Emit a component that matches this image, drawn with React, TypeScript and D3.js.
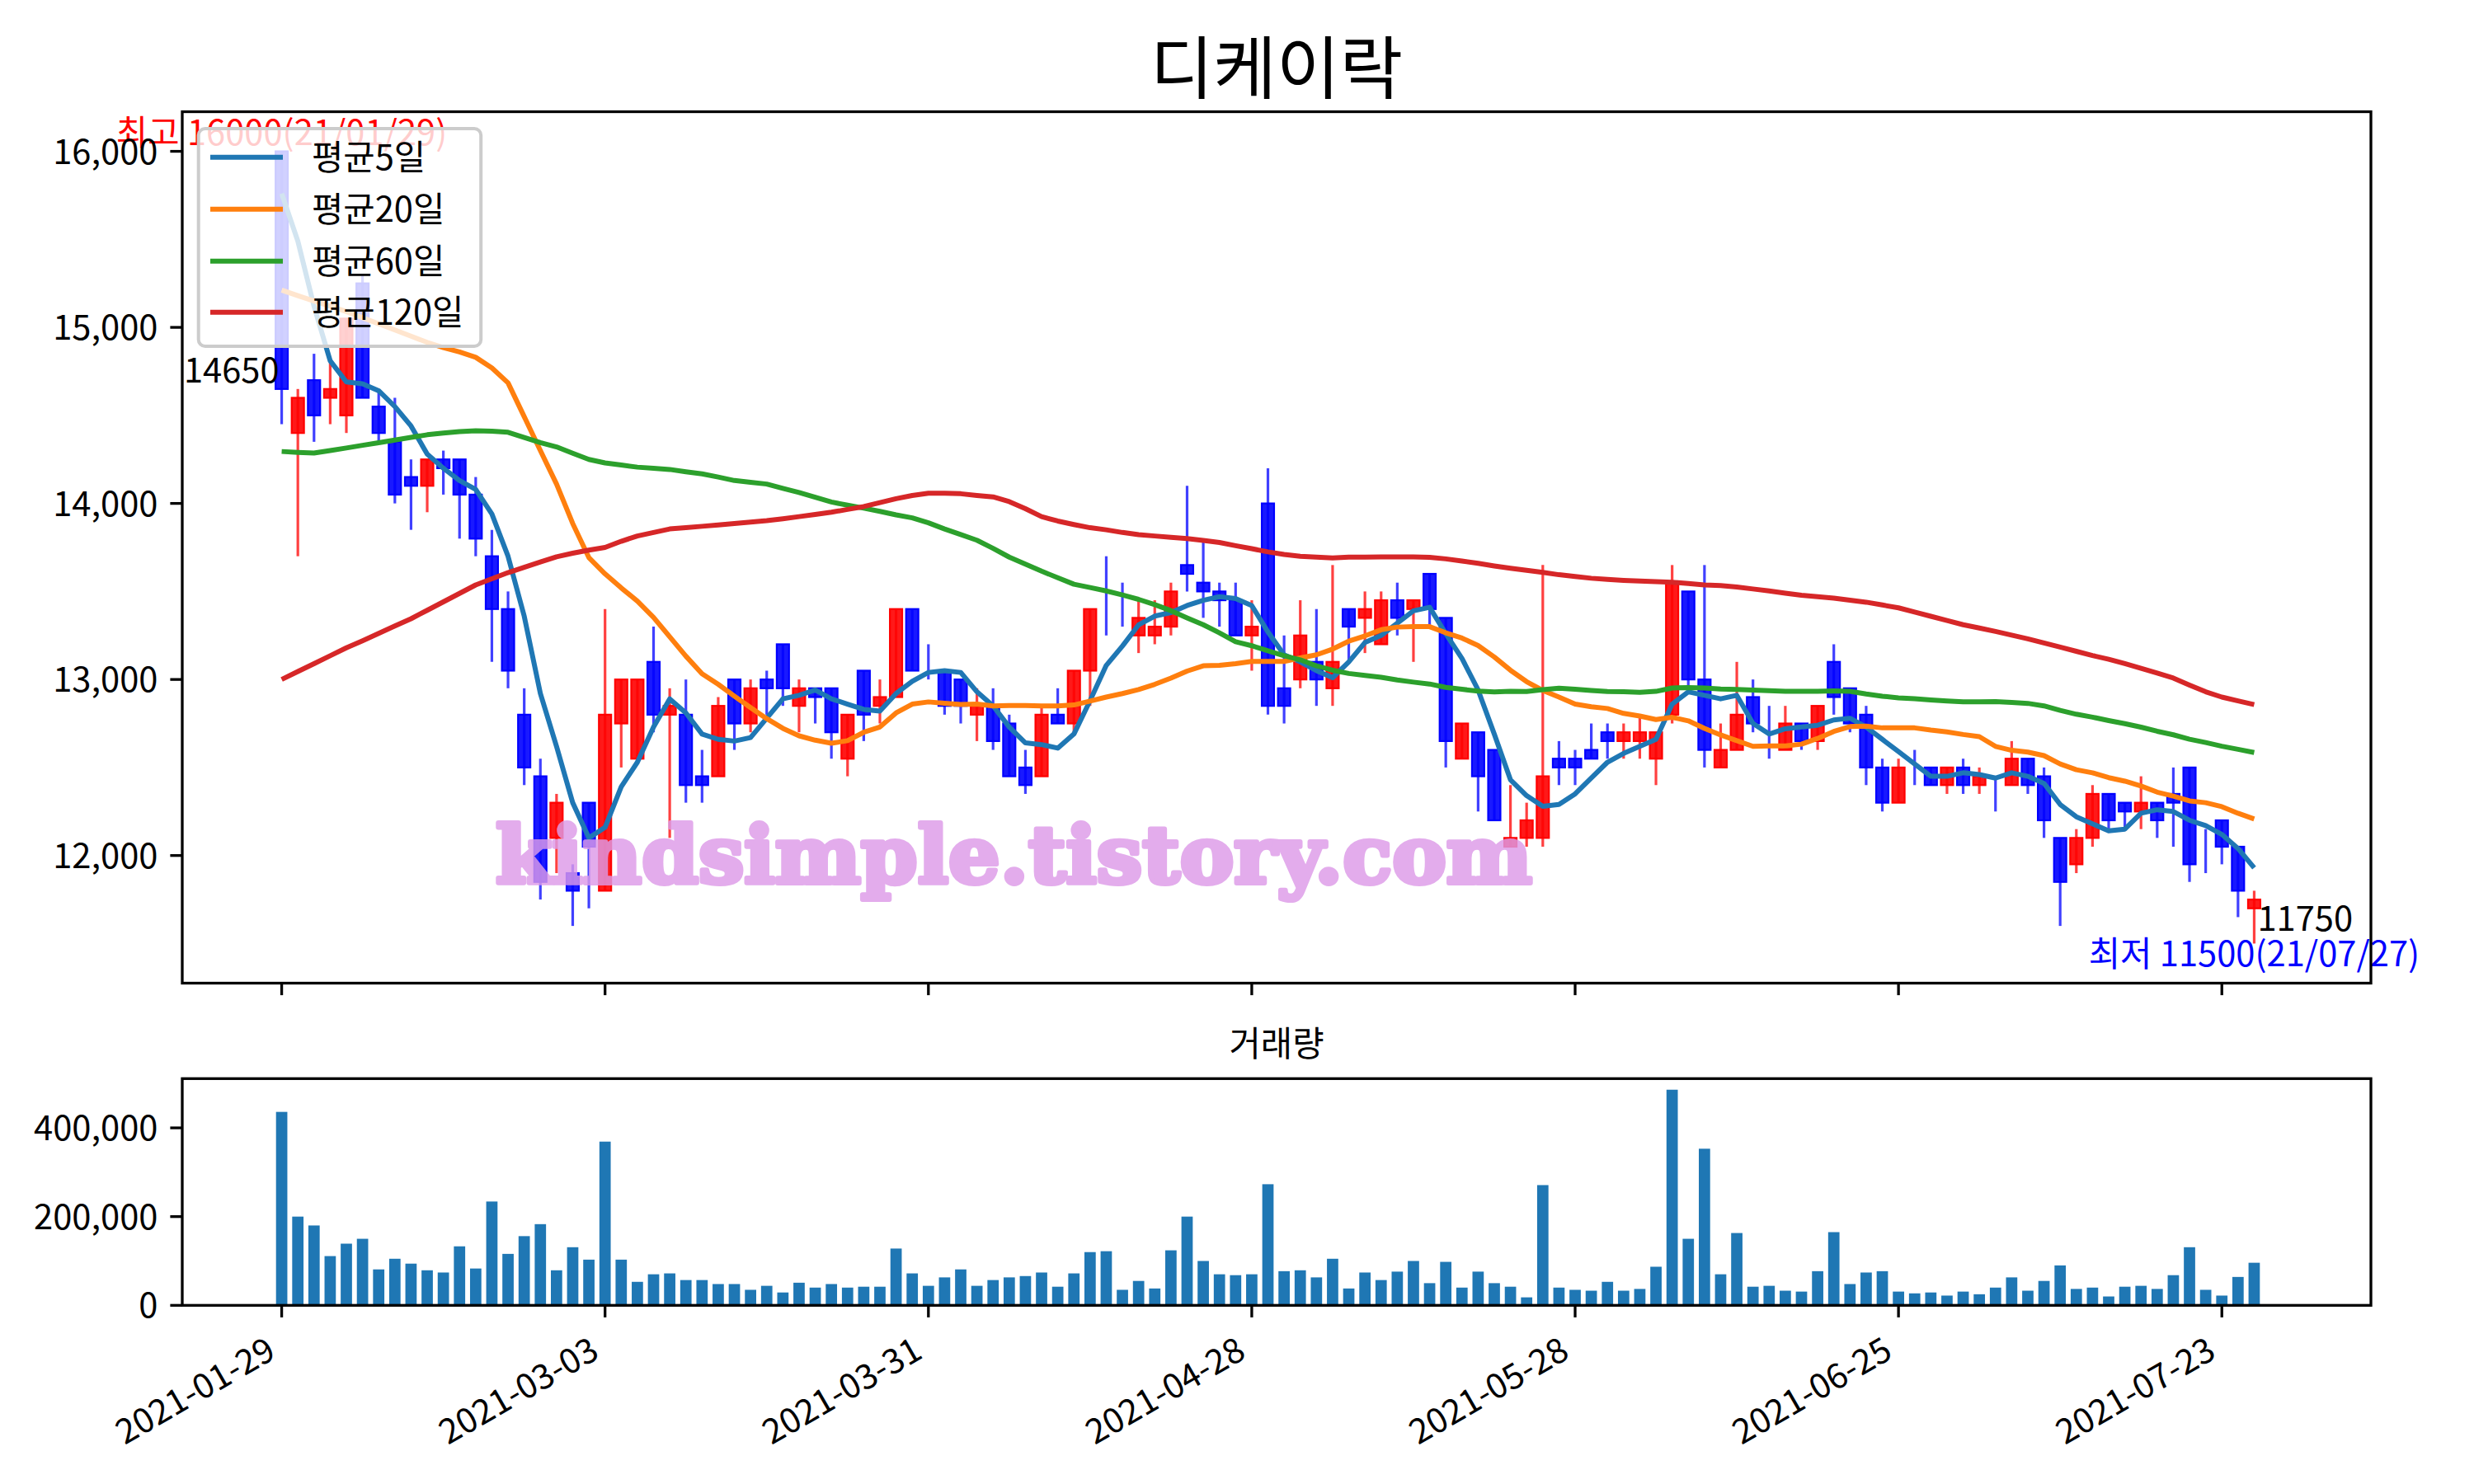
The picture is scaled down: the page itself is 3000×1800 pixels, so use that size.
import React from 'react';
import * as d3 from 'd3';

const W = 3000;
const H = 1800;

// ---------- data ----------
const opens = [
  16000, 14400, 14700, 14600, 14500, 15250, 14550, 14350, 14150, 14100,
  14250, 14250, 14050, 13700, 13400, 12800, 12450, 12100, 11900, 12300,
  11800, 12750, 12550, 13100, 12800, 12800, 12450, 12450, 13000, 12750,
  13000, 13200, 12850, 12950, 12950, 12550, 13050, 12850, 12900, 13400,
  13050, 13050, 13000, 12800, 12850, 12750, 12500, 12450, 12800, 12750,
  13050, 13400, 13350, 13250, 13250, 13300, 13650, 13550, 13500, 13450,
  13250, 14000, 12950, 13000, 13100, 12950, 13400, 13350, 13200, 13450,
  13400, 13600, 13350, 12550, 12700, 12600, 12050, 12100, 12100, 12550,
  12550, 12600, 12700, 12650, 12650, 12550, 12800, 13500, 13000, 12500,
  12600, 12900, 12700, 12600, 12750, 12650, 13100, 12950, 12800, 12500,
  12300, 12550, 12500, 12400, 12500, 12400, 12450, 12400, 12550, 12450,
  12100, 11950, 12100, 12350, 12300, 12250, 12300, 12350, 12500, 12100,
  12200, 12050, 11700,
];
const highs = [
  16000, 14650, 14850, 14800, 15050, 15300, 14650, 14600, 14250, 14250,
  14300, 14250, 14150, 13850, 13500, 12950, 12550, 12350, 11950, 12300,
  13400, 13000, 13000, 13300, 12950, 13000, 12600, 12900, 13000, 13000,
  13050, 13200, 13000, 12950, 12950, 12800, 13050, 13000, 13400, 13400,
  13200, 13050, 13000, 12950, 12950, 12800, 12600, 12850, 12950, 13050,
  13400, 13700, 13550, 13450, 13450, 13550, 14100, 13800, 13550, 13550,
  13450, 14200, 13250, 13450, 13400, 13650, 13400, 13500, 13500, 13550,
  13450, 13600, 13350, 12750, 12700, 12600, 12400, 12300, 13650, 12650,
  12600, 12750, 12750, 12750, 12800, 12700, 13650, 13500, 13650, 12750,
  13100, 13000, 12850, 12850, 12750, 12850, 13200, 12950, 12850, 12550,
  12550, 12600, 12500, 12500, 12550, 12500, 12450, 12650, 12550, 12500,
  12100, 12150, 12400, 12350, 12300, 12450, 12300, 12500, 12500, 12150,
  12200, 12050, 11800,
];
const lows = [
  14450, 13700, 14350, 14450, 14400, 14600, 14350, 14000, 13850, 13950,
  14050, 13800, 13700, 13100, 12950, 12400, 11750, 11900, 11600, 11700,
  11800, 12500, 12550, 12700, 12100, 12300, 12300, 12450, 12600, 12700,
  12800, 12850, 12700, 12750, 12550, 12450, 12650, 12750, 12900, 13050,
  13000, 12800, 12750, 12650, 12600, 12450, 12350, 12450, 12750, 12700,
  12850, 13250, 13300, 13150, 13200, 13250, 13500, 13350, 13300, 13250,
  13050, 12800, 12750, 12950, 12850, 12850, 13100, 13150, 13200, 13250,
  13100, 13300, 12500, 12550, 12250, 12200, 12050, 12050, 12050, 12400,
  12400, 12550, 12550, 12550, 12550, 12400, 12750, 12950, 12500, 12500,
  12600, 12700, 12550, 12600, 12600, 12600, 12800, 12700, 12400, 12250,
  12300, 12400, 12400, 12350, 12350, 12350, 12250, 12400, 12350, 12100,
  11600, 11900, 12050, 12150, 12150, 12150, 12100, 12050, 11850, 11900,
  11950, 11650, 11500,
];
const closes = [
  14650, 14600, 14500, 14650, 15050, 14600, 14400, 14050, 14100, 14250,
  14200, 14050, 13800, 13400, 13050, 12500, 11850, 12300, 11800, 12050,
  12800, 13000, 13000, 12800, 12850, 12400, 12400, 12850, 12750, 12950,
  12950, 12950, 12950, 12900, 12700, 12800, 12800, 12900, 13400, 13050,
  13050, 12850, 12850, 12850, 12650, 12450, 12400, 12800, 12750, 13050,
  13400, 13400, 13350, 13350, 13300, 13500, 13600, 13500, 13450, 13250,
  13300, 12850, 12850, 13250, 13000, 13100, 13300, 13400, 13450, 13350,
  13450, 13400, 12650, 12750, 12450, 12200, 12100, 12200, 12450, 12500,
  12500, 12550, 12650, 12700, 12700, 12700, 13550, 13000, 12600, 12600,
  12800, 12750, 12700, 12750, 12650, 12850, 12900, 12750, 12500, 12300,
  12500, 12550, 12400, 12500, 12400, 12450, 12450, 12550, 12400, 12200,
  11850, 12100, 12350, 12200, 12250, 12300, 12200, 12300, 11950, 12100,
  12050, 11800, 11750,
];
const volumes = [
  436000, 200000, 180000, 111000, 139000, 150000, 81000, 105000, 94000, 79000,
  74000, 133000, 83000, 234000, 116000, 156000, 183000, 79000, 131000, 103000,
  369000, 103000, 53000, 70000, 72000, 57000, 57000, 48000, 48000, 35000,
  44000, 29000, 51000, 40000, 48000, 40000, 42000, 42000, 128000, 72000,
  44000, 63000, 81000, 44000, 57000, 63000, 66000, 74000, 42000, 72000,
  120000, 122000, 35000, 55000, 38000, 124000, 200000, 100000, 70000, 68000,
  70000, 273000, 77000, 79000, 63000, 105000, 38000, 74000, 57000, 76000,
  100000, 50000, 98000, 40000, 76000, 50000, 42000, 18000, 271000, 40000,
  35000, 33000, 53000, 33000, 37000, 87000, 486000, 150000, 353000, 70000,
  163000, 42000, 44000, 33000, 31000, 77000, 165000, 48000, 74000, 77000,
  31000, 27000, 29000, 22000, 31000, 25000, 40000, 63000, 33000, 55000,
  90000, 37000, 40000, 20000, 42000, 44000, 37000, 68000, 131000, 35000,
  22000, 64000, 96000,
];

// moving-average values before the window is filled by the visible closes
const ma5Head = [15760, 15490, 15120, 14810];
const ma20Head = [
  15212, 15180, 15150, 15120, 15090, 15055, 15020, 14985, 14950, 14915,
  14885, 14860, 14830, 14770, 14685, 14493, 14300, 14110, 13886,
];
const ma60Head = [
  14295, 14290, 14286, 14300, 14315, 14330, 14345, 14360, 14375, 14390,
  14400, 14408, 14413, 14410, 14404, 14375, 14345, 14321, 14285, 14250,
  14230, 14218, 14206, 14200, 14193, 14180, 14168, 14150, 14130, 14120,
  14110, 14085, 14062, 14035, 14008, 13990, 13973, 13955, 13935, 13918,
  13890, 13855, 13823, 13791, 13745, 13695, 13655, 13615, 13578, 13541,
  13522, 13503, 13480, 13455, 13425, 13391, 13350, 13311, 13265,
];
const ma120 = [
  13000, 13045, 13090, 13135, 13180, 13220, 13262, 13304, 13345, 13393,
  13441, 13489, 13537, 13572, 13607, 13637, 13667, 13697, 13717, 13735,
  13750, 13785, 13815, 13835, 13855, 13862, 13870, 13878, 13886, 13894,
  13902, 13913, 13925, 13937, 13950, 13966, 13982, 14005, 14027, 14045,
  14058, 14058, 14055, 14045, 14037, 14010, 13970, 13925, 13900, 13880,
  13862, 13850, 13835, 13823, 13815, 13807, 13800, 13790, 13778, 13760,
  13743, 13725, 13710, 13700, 13695, 13690, 13695, 13695, 13696, 13696,
  13696, 13694, 13685, 13673, 13660, 13645, 13632, 13620, 13608, 13595,
  13585, 13575, 13568, 13563, 13559, 13556, 13552, 13545, 13537, 13533,
  13525, 13514, 13503, 13490, 13478, 13470, 13462, 13450, 13439, 13423,
  13407, 13383, 13359, 13335, 13311, 13292, 13273, 13252, 13231, 13207,
  13184, 13160, 13136, 13115, 13090, 13063, 13036, 13008, 12968, 12930,
  12900, 12878, 12857,
];

const xTickIdx = [0, 20, 40, 60, 80, 100, 120];
const xTickLabels = ['2021-01-29', '2021-03-03', '2021-03-31', '2021-04-28', '2021-05-28', '2021-06-25', '2021-07-23'];
const priceTicks = [12000, 13000, 14000, 15000, 16000];
const volTicks = [0, 200000, 400000];
const legendLabels = ['평균5일', '평균20일', '평균60일', '평균120일'];
const maColors = ['#1f77b4', '#ff7f0e', '#2ca02c', '#d62728'];

function rolling(vals: number[], n: number, head: number[]): number[] {
  return vals.map((_, i) => (i < head.length ? head[i] : d3.mean(vals.slice(i - n + 1, i + 1)) as number));
}

const FONT = "'Noto Sans CJK KR', 'Noto Sans', sans-serif";

export default function App() {
  const L = 221, R = 2875;
  const mainTop = 135.5, mainBot = 1192.5;
  const volTop = 1308.3, volBot = 1583.3;
  const x = d3.scaleLinear().domain([-6.15, 129.22]).range([L, R]);
  const y = d3.scaleLinear().domain([11275, 16225]).range([mainBot, mainTop]);
  const yv = d3.scaleLinear().domain([0, 511000]).range([volBot, volTop]);
  const step = x(1) - x(0);
  const bodyW = step * 0.76;
  const barW = step * 0.7;
  const fs = 41.7;

  const ma5 = rolling(closes, 5, ma5Head);
  const ma20 = rolling(closes, 20, ma20Head);
  const ma60 = rolling(closes, 60, ma60Head);
  const mas = [ma5, ma20, ma60, ma120];
  const line = d3.line<number>().x((_, i) => x(i)).y((d) => y(d));

  const n = closes.length;
  const idx = d3.range(n);
  const hiIdx = highs.indexOf(d3.max(highs) as number);
  const loIdx = lows.indexOf(d3.min(lows) as number);

  const legX = 240.7, legY = 156, legW = 342.5, legH = 264;
  const legRows = [190.7, 253.7, 316.7, 378.7];

  return (
    <svg width={W} height={H} style={{ position: 'absolute', left: 0, top: 0, background: '#fff' }} fontFamily={FONT}>
      <rect x={0} y={0} width={W} height={H} fill="#fff" />
      {/* title */}
      <text x={(L + R) / 2} y={113} fontSize={83.3} textAnchor="middle" fill="#000">디케이락</text>

      {/* ---------- main panel ---------- */}
      <g>
        {idx.map((i) => {
          const up = closes[i] > opens[i];
          const col = up ? '#ff0000' : '#0000ff';
          const top = y(Math.max(opens[i], closes[i]));
          const bot = y(Math.min(opens[i], closes[i]));
          return (
            <g key={i}>
              <line x1={x(i)} x2={x(i)} y1={y(highs[i])} y2={y(lows[i])} stroke={col} strokeWidth={3.2} strokeOpacity={0.75} />
              <rect x={x(i) - bodyW / 2} y={top} width={bodyW} height={Math.max(bot - top, 0)}
                fill={col} fillOpacity={0.9} stroke={col} strokeWidth={2.2} />
            </g>
          );
        })}
        {mas.map((m, k) => (
          <path key={k} d={line(m) as string} fill="none" stroke={maColors[k]} strokeWidth={6} strokeLinejoin="round" />
        ))}
        {/* watermark */}
        <g opacity={0.82}>
          <text x={601} y={1071} fontFamily="'DejaVu Serif', serif" fontWeight="bold" fontSize={96}
            textLength={1257} lengthAdjust="spacingAndGlyphs" fill="#dd9be8" stroke="#dd9be8" strokeWidth={6}
            strokeLinejoin="round">kindsimple.tistory.com</text>
        </g>
        {/* annotations */}
        <text x={x(hiIdx)} y={y(highs[hiIdx]) - 8} fontSize={fs} textAnchor="middle" fill="#ff0000">
          {`최고 ${highs[hiIdx]}(21/01/29)`}
        </text>
        <text x={x(0) - 3} y={y(closes[0]) - 8} fontSize={fs} textAnchor="end" fill="#000">{closes[0]}</text>
        <text x={x(n - 1) + 4} y={y(closes[n - 1]) + 38} fontSize={fs} textAnchor="start" fill="#000">{closes[n - 1]}</text>
        <text x={x(loIdx)} y={y(lows[loIdx]) + 28} fontSize={fs} textAnchor="middle" fill="#0000ff">
          {`최저 ${lows[loIdx]}(21/07/27)`}
        </text>

        {/* legend */}
        <rect x={legX} y={legY} width={legW} height={legH} rx={8} ry={8} fill="#fff" fillOpacity={0.8}
          stroke="#cccccc" strokeWidth={4} />
        {legendLabels.map((lab, k) => (
          <g key={lab}>
            <line x1={255} x2={343} y1={legRows[k]} y2={legRows[k]} stroke={maColors[k]} strokeWidth={6} />
            <text x={378} y={legRows[k] + 15} fontSize={fs} fill="#000">{lab}</text>
          </g>
        ))}

        {/* axes frame */}
        <rect x={L} y={mainTop} width={R - L} height={mainBot - mainTop} fill="none" stroke="#000" strokeWidth={3.3} />
        {priceTicks.map((t) => (
          <g key={t}>
            <line x1={L - 14.6} x2={L} y1={y(t)} y2={y(t)} stroke="#000" strokeWidth={3.3} />
            <text x={L - 29.5} y={y(t) + 15} fontSize={fs} textAnchor="end" fill="#000">{d3.format(',')(t)}</text>
          </g>
        ))}
        {xTickIdx.map((t) => (
          <line key={t} x1={x(t)} x2={x(t)} y1={mainBot} y2={mainBot + 14.6} stroke="#000" strokeWidth={3.3} />
        ))}
      </g>

      {/* ---------- volume panel ---------- */}
      <g>
        <text x={(L + R) / 2} y={1281} fontSize={fs} textAnchor="middle" fill="#000">거래량</text>
        {idx.map((i) => (
          <rect key={i} x={x(i) - barW / 2} y={yv(volumes[i])} width={barW} height={yv(0) - yv(volumes[i])} fill="#1f77b4" />
        ))}
        <rect x={L} y={volTop} width={R - L} height={volBot - volTop} fill="none" stroke="#000" strokeWidth={3.3} />
        {volTicks.map((t) => (
          <g key={t}>
            <line x1={L - 14.6} x2={L} y1={yv(t)} y2={yv(t)} stroke="#000" strokeWidth={3.3} />
            <text x={L - 29.5} y={yv(t) + 15} fontSize={fs} textAnchor="end" fill="#000">{d3.format(',')(t)}</text>
          </g>
        ))}
        {xTickIdx.map((t, k) => (
          <g key={t}>
            <line x1={x(t)} x2={x(t)} y1={volBot} y2={volBot + 14.6} stroke="#000" strokeWidth={3.3} />
            <text transform={`translate(${x(t) - 5},${1646}) rotate(-30)`} fontSize={fs} textAnchor="end" fill="#000">
              {xTickLabels[k]}
            </text>
          </g>
        ))}
      </g>
    </svg>
  );
}
